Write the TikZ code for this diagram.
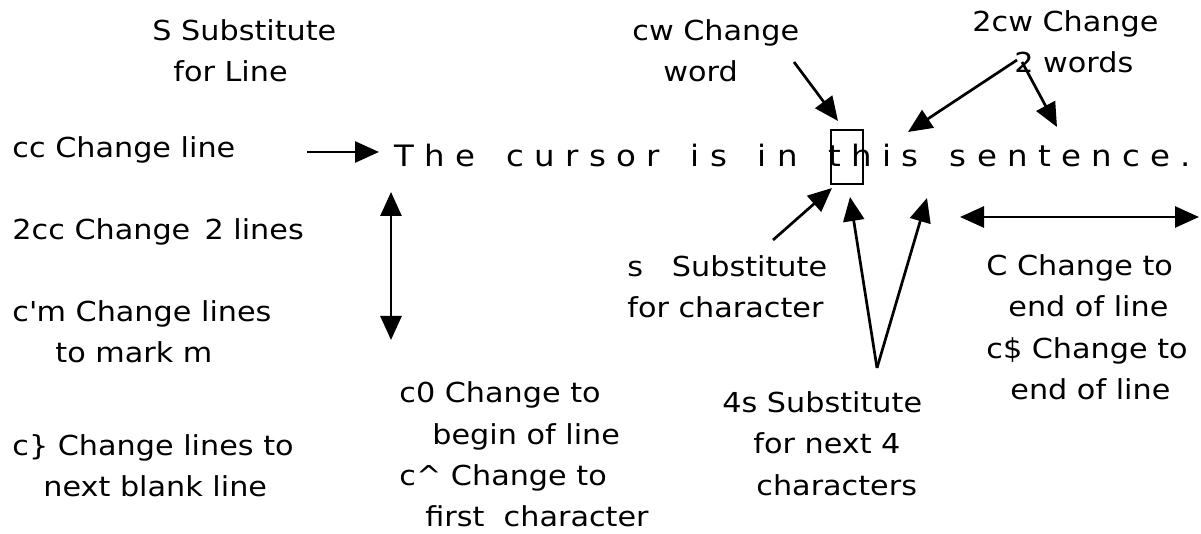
\documentclass[tikz,border=0pt]{standalone}
\usepackage{fontspec}
\usetikzlibrary{arrows.meta}
\newfontfamily\dvfamily[FakeStretch=1.1]{DejaVu Sans}
\newcommand\lblfont{\dvfamily\fontsize{13.75pt}{20.75pt}\selectfont}
\newcommand\sentfont{\dvfamily\fontsize{14.75pt}{20pt}\selectfont}
\tikzset{
  % multi-line labels are placed by the baseline of their last line
  lbl/.style={font=\lblfont, inner sep=0pt, anchor=base west, align=left},
  tip/.style={-{Triangle[length=12pt,width=10.5pt]}},
  arr/.style={line width=1.35pt, tip},
  darr/.style={line width=1.35pt, {Triangle[length=12pt,width=10.5pt]}-{Triangle[length=12pt,width=10.5pt]}},
}
\begin{document}
\begin{tikzpicture}[x=0.5pt, y=-0.5pt]
\useasboundingbox (0,0) rectangle (1201,534);

% the sample line of text and the cursor box
\node[font=\sentfont, inner sep=0pt, anchor=base west] (sent) at (394,167)
  {T\ h\ e\ \ \ c\ u\ r\ s\ o\ r\ \ \ i\ s\ \ \ i\ n\ \ \ t\ h\ i\ s\ \ \ s\ e\ n\ t\ e\ n\ c\ e\ .};
\node[draw, line width=1pt, inner sep=0pt, minimum width=16pt, minimum height=27pt] (cursor) at (847,157) {};

% left column of line commands
\node[lbl] (S)    at (152,82)  {S Substitute\\\hspace*{10.5pt}for Line};
\node[lbl] (cc)   at (12,158)  {cc Change line};
\node[lbl] (twocc) at (12,240) {2cc Change\ \,2 lines};
\node[lbl] (cm)   at (12,363)  {c\textquotesingle m Change lines\\\hspace*{21.5pt}to mark m};
\node[lbl] (cbr)  at (12,497)  {c\} Change lines to\\\hspace*{15.5pt}next blank line};

% commands below and above the sample line
\node[lbl] (czero) at (399,527) {c0 Change to\\\hspace*{16.5pt}begin of line\\c\textasciicircum{} Change to\\\hspace*{13pt}first\ \ character};
\node[lbl] (foursub) at (722,495) {4s Substitute\\\hspace*{15.5pt}for next 4\\\hspace*{17pt}characters};
\node[lbl] (ssub) at (627,318) {s\ \ \ Substitute\\for character};
\node[lbl] (Cchg) at (986,400) {C Change to\\\hspace*{11pt}end of line\\c\$ Change to\\\hspace*{12pt}end of line};
\node[lbl] (cw)   at (632,82)  {cw Change\\\hspace*{15.5pt}word};
\node[lbl] (twocw) at (972,73) {2cw Change\\\hspace*{21pt}2 words};

% arrow end points
\coordinate (ccA) at (307,152);   \coordinate (ccB) at (379,152);
\coordinate (vA)  at (391,192);   \coordinate (vB)  at (391,340);
\coordinate (cwA) at (794,62);    \coordinate (cwB) at (838,121);
\coordinate (wA)  at (1017,60);   \coordinate (wB)  at (908,132);
\coordinate (wC)  at (1022,62);   \coordinate (wD)  at (1057,127);
\coordinate (sA)  at (773,240);   \coordinate (sB)  at (832,188);
\coordinate (fA)  at (877,368);   \coordinate (fB)  at (850,197);
\coordinate (fC)  at (927,198);
\coordinate (eA)  at (960,217);   \coordinate (eB)  at (1199,217);

\draw[arr]  (ccA) -- (ccB);
\draw[darr] (vA) -- (vB);
\draw[arr]  (cwA) -- (cwB);
\draw[arr]  (wA) -- (wB);
\draw[arr]  (wC) -- (wD);
\draw[arr]  (sA) -- (sB);
\draw[arr]  (fA) -- (fB);
\draw[arr]  (fA) -- (fC);
\draw[darr] (eA) -- (eB);
\end{tikzpicture}
\end{document}
